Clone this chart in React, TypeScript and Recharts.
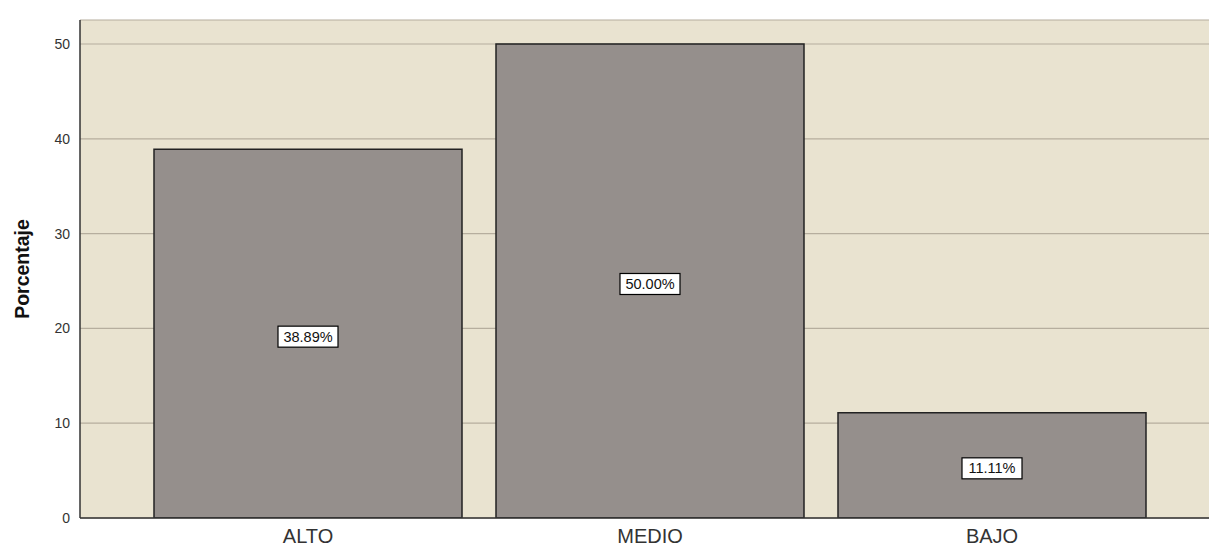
import React from 'react';
import { BarChart, Bar, XAxis, YAxis, CartesianGrid, LabelList } from 'recharts';

const categories = ['ALTO', 'MEDIO', 'BAJO'];
const percentages = [38.89, 50.0, 11.11];
const yTicks = [0, 10, 20, 30, 40, 50];
const yMax = 52.53;
const yLabel = 'Porcentaje';

const data = categories.map((c, i) => ({ name: c, value: percentages[i] }));

const BoxLabel = (props: any) => {
  const { x, y, width, height, value } = props;
  const cx = x + width / 2;
  const cy = y + height / 2 + 3;
  const text = `${Number(value).toFixed(2)}%`;
  const w = 60;
  const h = 21;
  return (
    <g>
      <rect x={cx - w / 2} y={cy - h / 2} width={w} height={h} fill="#ffffff" stroke="#000" strokeWidth={1.2} />
      <text x={cx} y={cy + 5} textAnchor="middle" fontSize={14.5} fill="#111" fontFamily="Liberation Sans, Arial, sans-serif">
        {text}
      </text>
    </g>
  );
};

export default function App() {
  return (
    <div style={{ position: 'absolute', left: 0, top: 0, width: 1209, height: 549, background: '#fff' }}>
      <BarChart
        width={1209}
        height={549}
        data={data}
        margin={{ top: 20, right: 0, bottom: 0, left: 40 }}
        barCategoryGap={17}
      >
        <CartesianGrid vertical={false} stroke="#b6ae9e" strokeWidth={1.2} fill="#e9e3d0" fillOpacity={1} />
        <XAxis
          dataKey="name"
          height={31}
          axisLine={{ stroke: '#333', strokeWidth: 1.5 }}
          tickLine={false}
          padding={{ left: 57, right: 46 }}
          tick={{ fontSize: 20, fill: '#333', fontFamily: 'Liberation Sans, Arial, sans-serif', dy: 3 }}
        />
        <YAxis
          width={40}
          domain={[0, yMax]}
          ticks={yTicks}
          allowDataOverflow
          axisLine={{ stroke: '#333', strokeWidth: 1.5 }}
          tickLine={false}
          tick={{ fontSize: 14, fill: '#333', fontFamily: 'Liberation Sans, Arial, sans-serif', dx: -2 }}
          label={{
            content: () => (
              <text
                x={29}
                y={269}
                transform="rotate(-90 29 269)"
                textAnchor="middle"
                fontSize={19.5}
                fontWeight="bold"
                fill="#111"
                fontFamily="Liberation Sans, Arial, sans-serif"
              >
                {yLabel}
              </text>
            ),
          }}
        />
        <Bar dataKey="value" fill="#958f8c" stroke="#222" strokeWidth={1.5} isAnimationActive={false}>
          <LabelList dataKey="value" content={BoxLabel} />
        </Bar>
      </BarChart>
    </div>
  );
}
